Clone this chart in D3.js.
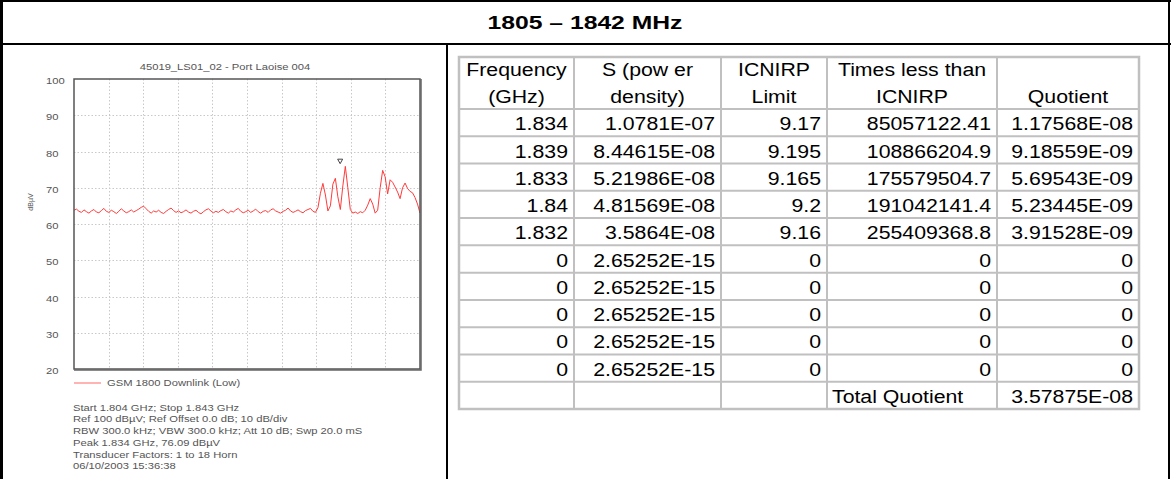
<!DOCTYPE html>
<html>
<head>
<meta charset="utf-8">
<script src="https://cdn.jsdelivr.net/npm/d3@7/dist/d3.min.js"></script>
<style>
  html, body { margin: 0; background: #fff; }
  svg { display: block; font-family: 'Liberation Sans', Arial, sans-serif; }
</style>
</head>
<body>
<svg id="chart" width="1171" height="479"></svg>
<script>
const pageTitle = '1805 – 1842 MHz';
const plotTitle = '45019_LS01_02 - Port Laoise 004';
const traceName = 'GSM 1800 Downlink (Low)';
const span = [1.804, 1.843]; // GHz
const levelTicks = [20, 30, 40, 50, 60, 70, 80, 90, 100];
const peak = { ghz: 1.834, level: 76.09 };

// dBµV, equally spaced across the sweep
const traceLevels = [
  63.8, 64.1, 63.5, 63.2, 63.9, 63.4, 63.0, 63.6, 64.0, 63.3,
  63.1, 63.7, 64.3, 63.5, 63.2, 63.8, 63.4, 62.9, 63.5, 64.2,
  63.6, 63.1, 63.4, 63.9, 63.3, 63.7, 64.1, 64.6, 64.9, 64.2,
  63.5, 63.0, 63.6, 63.3, 63.8, 63.2, 62.9, 63.5, 64.0, 64.4,
  63.7, 63.2, 63.6, 63.1, 63.4, 63.9, 63.3, 63.0, 63.5, 63.8,
  63.2, 62.8, 63.4, 63.9, 64.2, 63.6, 63.1, 63.5, 63.2, 63.7,
  64.0, 63.4, 63.0, 63.6, 63.3, 63.9, 64.3, 63.5, 63.1, 63.4,
  63.8, 63.2, 63.6, 64.1, 63.4, 63.0, 63.5, 63.7, 63.2, 63.9,
  64.2, 63.6, 63.3, 63.0, 63.5, 63.8, 64.4, 63.6, 63.2, 63.5,
  63.9, 63.4, 63.1, 63.7, 64.0,
  64.3, 63.5, 63.2, 64.5, 68.5, 71.2, 68.0, 63.6, 65.0, 71.0,
  72.6, 67.5, 64.0, 70.5, 75.9, 70.0, 64.0, 63.0, 63.3, 62.9,
  63.4, 63.1, 63.8, 65.2, 67.0, 65.5, 63.0, 63.8, 70.0, 74.8,
  73.0, 68.3, 72.2, 71.5, 70.2, 68.8, 67.0, 70.0, 71.3, 69.8,
  69.0, 68.6, 67.3, 65.5, 63.0
];

const infoLines = [
  'Start 1.804 GHz; Stop 1.843 GHz',
  'Ref 100 dBµV; Ref Offset 0.0 dB; 10 dB/div',
  'RBW 300.0 kHz; VBW 300.0 kHz; Att 10 dB; Swp 20.0 mS',
  'Peak 1.834 GHz, 76.09 dBµV',
  'Transducer Factors: 1 to 18 Horn',
  '06/10/2003 15:36:38'
];

const headerTop = ['Frequency', 'S (pow er', 'ICNIRP', 'Times less than', ''];
const headerBottom = ['(GHz)', 'density)', 'Limit', 'ICNIRP', 'Quotient'];
const freqGHz = ['1.834', '1.839', '1.833', '1.84', '1.832', '0', '0', '0', '0', '0'];
const powerDensity = ['1.0781E-07', '8.44615E-08', '5.21986E-08', '4.81569E-08', '3.5864E-08',
  '2.65252E-15', '2.65252E-15', '2.65252E-15', '2.65252E-15', '2.65252E-15'];
const icnirpLimit = ['9.17', '9.195', '9.165', '9.2', '9.16', '0', '0', '0', '0', '0'];
const timesLess = ['85057122.41', '108866204.9', '175579504.7', '191042141.4', '255409368.8',
  '0', '0', '0', '0', '0'];
const quotient = ['1.17568E-08', '9.18559E-09', '5.69543E-09', '5.23445E-09', '3.91528E-09',
  '0', '0', '0', '0', '0'];
const totalLabel = 'Total Quotient';
const totalQuotient = '3.57875E-08';

const svg = d3.select('#chart');

// text in the source is a bit wider than Arial, so stretch it sideways
function stretched(parent, x, y, str, { size = 9.5, sx = 1.18, anchor = 'start', fill = '#555', weight = 'normal' } = {}) {
  return parent.append('text')
    .attr('transform', `translate(${x},${y}) scale(${sx},1)`)
    .attr('text-anchor', anchor)
    .attr('dominant-baseline', 'central')
    .attr('font-size', size)
    .attr('font-weight', weight)
    .attr('fill', fill)
    .text(str);
}

// ---- outer frame + title row
const frame = svg.append('g').attr('stroke', '#000').attr('fill', 'none');
frame.append('line').attr('x1', 0).attr('x2', 1171).attr('y1', 1).attr('y2', 1).attr('stroke-width', 2);
frame.append('line').attr('x1', 1.5).attr('x2', 1.5).attr('y1', 0).attr('y2', 479).attr('stroke-width', 3);
frame.append('line').attr('x1', 1169).attr('x2', 1169).attr('y1', 0).attr('y2', 479).attr('stroke-width', 2);
frame.append('line').attr('x1', 0).attr('x2', 1171).attr('y1', 44).attr('y2', 44).attr('stroke-width', 2);
frame.append('line').attr('x1', 447).attr('x2', 447).attr('y1', 44).attr('y2', 479).attr('stroke-width', 2);

stretched(svg, 585, 23, pageTitle, { size: 19, sx: 1.3, anchor: 'middle', fill: '#000', weight: 'bold' });

// ---- spectrum plot
const x = d3.scaleLinear().domain(span).range([74, 420]);
const y = d3.scaleLinear().domain([20, 100]).range([369, 79]);
const sample = d3.scaleLinear().domain([0, traceLevels.length - 1]).range(span);
const div = d3.scaleLinear().domain([0, 10]).range(x.range());

const plot = svg.append('g');

const grid = plot.append('g')
  .attr('stroke', '#c8c8c8')
  .attr('stroke-width', 1)
  .attr('stroke-dasharray', '1.5,2');
grid.selectAll('.v')
  .data(d3.range(1, 10))
  .join('line')
  .attr('x1', d => Math.round(div(d)) + 0.5)
  .attr('x2', d => Math.round(div(d)) + 0.5)
  .attr('y1', y(100))
  .attr('y2', y(20));
grid.selectAll('.h')
  .data(levelTicks.slice(1, -1))
  .join('line')
  .attr('x1', x(span[0]))
  .attr('x2', x(span[1]))
  .attr('y1', d => Math.round(y(d)) + 0.5)
  .attr('y2', d => Math.round(y(d)) + 0.5);

const line = d3.line()
  .x((_, i) => x(sample(i)))
  .y(d => y(d));
plot.append('path')
  .datum(traceLevels)
  .attr('d', line)
  .attr('fill', 'none')
  .attr('stroke', '#ff3b3b')
  .attr('stroke-width', 1);

// peak marker
const mx = x(peak.ghz);
const my = y(peak.level) - 4;
plot.append('path')
  .attr('d', `M${mx - 2.5},${my - 2.5}L${mx + 2.5},${my - 2.5}L${mx},${my + 2}Z`)
  .attr('fill', '#fff')
  .attr('stroke', '#444')
  .attr('stroke-width', 1);

// plot frame, darker on the right and bottom
plot.append('rect')
  .attr('x', x(span[0]))
  .attr('y', y(100))
  .attr('width', x(span[1]) - x(span[0]))
  .attr('height', y(20) - y(100))
  .attr('fill', 'none')
  .attr('stroke', '#555')
  .attr('stroke-width', 1.5);
plot.append('path')
  .attr('d', `M${x(span[1]) + 1},${y(100)}V${y(20) + 1}H${x(span[0])}`)
  .attr('fill', 'none')
  .attr('stroke', '#666')
  .attr('stroke-width', 1.5);

levelTicks.forEach(v => stretched(plot, 46, y(v) + 2, String(v)));

stretched(plot, 225, 67, plotTitle, { anchor: 'middle' });

plot.append('text')
  .attr('transform', `translate(30,202) rotate(-90)`)
  .attr('text-anchor', 'middle')
  .attr('dominant-baseline', 'central')
  .attr('font-size', 7)
  .attr('fill', '#555')
  .text('dBµV');

// legend
plot.append('line')
  .attr('x1', 74).attr('x2', 101)
  .attr('y1', 383).attr('y2', 383)
  .attr('stroke', '#ff9a9a')
  .attr('stroke-width', 1.5);
stretched(plot, 107, 383, traceName);

const infoY = d3.scaleLinear().domain([0, infoLines.length - 1]).range([407.5, 466]);
infoLines.forEach((t, i) => stretched(plot, 73, infoY(i), t));

// ---- table
const cols = [459, 574, 721, 827, 997, 1139];
const row = d3.scaleLinear().domain([0, 11]).range([109, 409]);
const table = svg.append('g');

const rows = d3.zip(freqGHz, powerDensity, icnirpLimit, timesLess, quotient);
rows.push(['', '', '', totalLabel, totalQuotient]);

const tgrid = table.append('g').attr('stroke', '#c0c0c0').attr('stroke-width', 2).attr('fill', 'none');
tgrid.append('rect')
  .attr('x', cols[0]).attr('y', 57)
  .attr('width', cols[5] - cols[0]).attr('height', row(11) - 57)
  .attr('stroke-width', 2.5);
tgrid.selectAll('.c')
  .data(cols.slice(1, -1))
  .join('line')
  .attr('x1', d => d).attr('x2', d => d)
  .attr('y1', 57).attr('y2', row(11));
tgrid.selectAll('.r')
  .data(d3.range(0, 11))
  .join('line')
  .attr('x1', cols[0]).attr('x2', cols[5])
  .attr('y1', d => row(d)).attr('y2', d => row(d));

const tstyle = { size: 19, sx: 1.12, fill: '#000' };
headerTop.forEach((h, c) => {
  const cx = (cols[c] + cols[c + 1]) / 2;
  if (h) stretched(table, cx, 69, h, { ...tstyle, anchor: 'middle' });
  stretched(table, cx, 96, headerBottom[c], { ...tstyle, anchor: 'middle' });
});

rows.forEach((r, i) => {
  const cy = (row(i) + row(i + 1)) / 2 + 1;
  r.forEach((v, c) => {
    if (!v) return;
    if (v === totalLabel) {
      stretched(table, cols[c] + 5, cy, v, { ...tstyle, anchor: 'start' });
    } else {
      stretched(table, cols[c + 1] - 6, cy, v, { ...tstyle, anchor: 'end' });
    }
  });
});
</script>
</body>
</html>
